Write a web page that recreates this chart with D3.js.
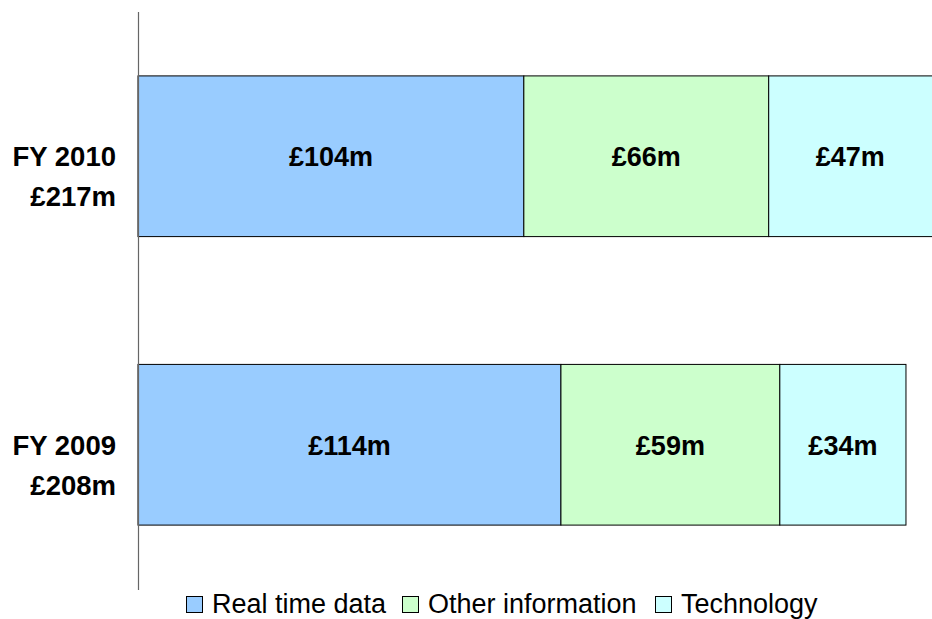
<!DOCTYPE html>
<head>
    <script src="https://d3js.org/d3.v7.min.js"></script>
    <style>
        body { margin: 0; background: #fff; }
        text { font-family: "Liberation Sans", Arial, sans-serif; }
    </style>
</head>
<svg width="932" height="619"></svg>
<script>
    // data
    var years = ["FY 2010", "FY 2009"];
    var totals = ["£217m", "£208m"];
    var series = ["Real time data", "Other information", "Technology"];
    var realTime = [104, 114];
    var otherInfo = [66, 59];
    var technology = [47, 34];
    var colors = ["#99CCFF", "#CCFFCC", "#CCFFFF"];

    var svg = d3.select("svg");

    var x = d3.scaleLinear().domain([0, 100]).range([138, 138 + 371]);
    var y = d3.scaleBand().domain(years).range([12, 589]).paddingInner(0.443).paddingOuter(0.2215);

    var rows = years.map(function(yr, i) {
        return { year: yr, total: totals[i], vals: [realTime[i], otherInfo[i], technology[i]] };
    });

    var stack = d3.stack().keys([0, 1, 2]).value(function(d, k) { return d.vals[k]; });
    var layers = stack(rows);

    var g = svg.append("g");
    layers.forEach(function(layer, k) {
        g.selectAll(".bar" + k)
            .data(layer)
            .enter().append("rect")
            .attr("x", function(d) { return x(d[0]); })
            .attr("y", function(d) { return y(d.data.year); })
            .attr("width", function(d) { return x(d[1]) - x(d[0]); })
            .attr("height", y.bandwidth())
            .attr("fill", colors[k])
            .attr("stroke", "#000")
            .attr("stroke-width", 1);

        g.selectAll(".lab" + k)
            .data(layer)
            .enter().append("text")
            .attr("x", function(d) { return (x(d[0]) + Math.min(x(d[1]), 932)) / 2; })
            .attr("y", function(d) { return y(d.data.year) + y.bandwidth() / 2 + 10; })
            .attr("text-anchor", "middle")
            .attr("font-size", 27)
            .attr("font-weight", "bold")
            .text(function(d) { return "£" + (d[1] - d[0]) + "m"; });
    });

    // category axis line
    svg.append("line")
        .attr("x1", 138.5).attr("x2", 138.5)
        .attr("y1", 12).attr("y2", 590)
        .attr("stroke", "#666").attr("stroke-width", 1.2);

    // category labels
    rows.forEach(function(r) {
        var cy = y(r.year) + y.bandwidth() / 2;
        svg.append("text")
            .attr("x", 116).attr("y", cy + 10)
            .attr("text-anchor", "end")
            .attr("font-size", 27.5).attr("font-weight", "bold")
            .text(r.year);
        svg.append("text")
            .attr("x", 116).attr("y", cy + 50)
            .attr("text-anchor", "end")
            .attr("font-size", 27.5).attr("font-weight", "bold")
            .text(r.total);
    });

    // legend
    var legX = [186, 402, 655];
    var leg = svg.append("g");
    series.forEach(function(s, i) {
        leg.append("rect")
            .attr("x", legX[i] + 0.5).attr("y", 596.5)
            .attr("width", 16).attr("height", 16)
            .attr("fill", colors[i]).attr("stroke", "#000");
        leg.append("text")
            .attr("x", legX[i] + 26).attr("y", 613)
            .attr("font-size", 27)
            .text(s);
    });
</script>
